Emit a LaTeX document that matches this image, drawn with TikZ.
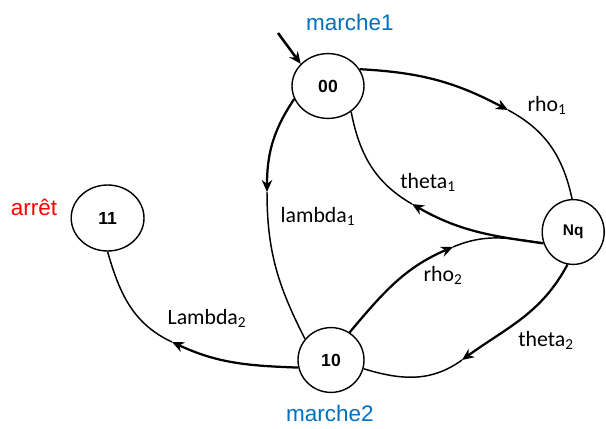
\documentclass[tikz,border=0pt]{standalone}
\usepackage{fontspec}
\setmainfont{Liberation Sans}
\newfontfamily\calibri{Carlito}
\usetikzlibrary{arrows.meta,shapes.geometric}
\definecolor{bleu}{RGB}{0,112,192}

\begin{document}
\begin{tikzpicture}[x=1cm,y=1cm,>={Stealth[length=3mm,width=2.6mm]},
  etat/.style={draw,ellipse,line width=1pt,inner sep=0pt,font=\fontsize{12.5}{14}\selectfont\bfseries},
  fort/.style={line width=1.6pt},
  fin/.style={line width=1.05pt},
  lbl/.style={font=\calibri\fontsize{15.5}{18}\selectfont}]
\useasboundingbox (0,0) rectangle (15.15,10.7);
\node[etat,minimum width=1.8cm,minimum height=1.62cm] (n00) at (8.2,8.55) {00};
\node[etat,minimum width=1.82cm,minimum height=1.65cm] (n11) at (2.69,5.25) {11};
\node[etat,minimum width=1.55cm,minimum height=1.62cm,font=\fontsize{11}{13}\selectfont\bfseries] (nq) at (14.33,4.9) {Nq};
\node[etat,minimum width=1.65cm,minimum height=1.62cm] (n10) at (8.275,1.7) {10};
\node[text=bleu,font=\fontsize{16}{19}\selectfont] (m1) at (8.75,10.15) {marche1};
\node[text=bleu,font=\fontsize{16}{19}\selectfont] (m2) at (8.25,0.375) {marche2};
\node[text=red,font=\fontsize{16}{19}\selectfont] (arret) at (0.85,5.525) {arrêt};
\coordinate (init) at (6.95,9.875);
\coordinate (r1) at (12.7,7.95);
\coordinate (t1) at (10.3,5.6);
\coordinate (l1) at (6.675,5.9);
\coordinate (r2) at (11.325,4.525);
\coordinate (t2) at (11.55,1.7);
\coordinate (l2) at (4.3,2.15);
\draw[->,line width=1.8pt] (init) -- (n00.141);
\draw[->,fort] (n00.28) to[out=-3,in=152] (r1);
\draw[fin] (r1) to[out=-28,in=102] (nq.92);
\draw[->,fort] (nq.201) to[out=172,in=-30] (t1);
\draw[fin] (t1) to[out=150,in=-79] (n00.-48);
\draw[->,fort] (n00.201) to[out=236,in=90] (l1);
\draw[fin] (l1) to[out=-90,in=117] (n10.141);
\draw[->,fort] (n10.56) to[out=50,in=-157] (r2);
\draw[fin] (r2) to[out=23,in=172] (nq.200);
\draw[->,fort] (nq.260) to[out=242,in=36] (t2);
\draw[fin] (t2) to[out=216,in=-17] (n10.-15);
\draw[->,fort] (n10.193) to[out=178,in=-25] (l2);
\draw[fin] (l2) to[out=155,in=-74] (n11.270);
\node[lbl] (rho1) at (13.675,8.075) {rho\textsubscript{1}};
\node[lbl] (theta1) at (10.7,6.15) {theta\textsubscript{1}};
\node[lbl] (lambda1) at (7.95,5.3) {lambda\textsubscript{1}};
\node[lbl] (rho2) at (11.075,3.825) {rho\textsubscript{2}};
\node[lbl] (theta2) at (13.65,2.2) {theta\textsubscript{2}};
\node[lbl] (lambda2) at (5.175,2.75) {Lambda\textsubscript{2}};
\end{tikzpicture}
\end{document}
